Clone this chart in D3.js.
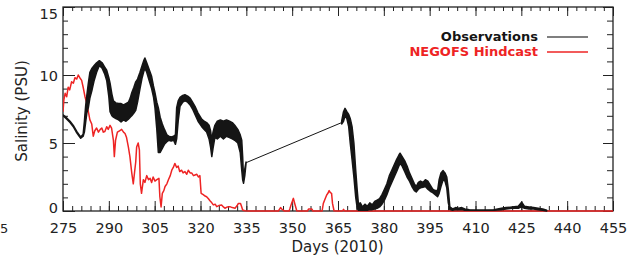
<!DOCTYPE html>
<html><head><meta charset="utf-8">
<script src="https://cdn.jsdelivr.net/npm/d3@7/dist/d3.min.js"></script>
<style>
body{margin:0;background:#fff;}
svg{display:block;}
text{font-family:"DejaVu Sans",sans-serif;}
</style></head>
<body>
<svg id="chart" width="635" height="258"></svg>
<script>
// ---- data ----
const xTicks = [275,290,305,320,335,350,365,380,395,410,425,440,455];
const yTicks = [0,5,10,15];
const seriesNames = ["Observations","NEGOFS Hindcast"];

// Observations: day, upper and lower envelope of the tidal band
const obsDay = [275.0,276.0,277.3,278.5,279.5,280.3,280.8,281.6,282.0,282.4,282.8,283.3,283.8,284.5,285.2,286.0,286.9,287.8,288.6,289.3,290.0,290.4,291.0,291.5,292.3,293.2,294.0,294.8,295.6,296.4,297.0,297.5,298.2,298.8,299.4,300.2,300.9,301.5,301.8,302.4,303.2,304.0,304.6,305.1,305.7,306.2,306.8,307.5,308.2,309.0,309.6,310.4,311.2,311.8,312.2,312.7,313.3,314.2,314.9,315.8,316.6,317.4,318.2,319.2,320.4,321.2,322.0,322.8,323.3,323.7,324.1,324.7,325.5,326.5,327.5,328.5,329.5,330.4,331.2,332.2,333.0,333.5,333.8,334.1,334.5,334.9,
366.2,366.8,367.3,367.9,368.5,369.0,369.6,370.2,370.8,371.3,371.7,372.3,373.0,373.8,374.6,375.4,376.2,377.0,377.8,378.6,379.4,380.2,381.0,381.8,382.6,383.4,384.2,384.9,385.3,386.0,386.8,387.6,388.4,389.2,390.0,390.6,391.3,392.0,392.8,393.6,394.4,395.2,396.0,396.8,397.6,398.1,398.7,399.4,400.0,400.6,401.1,401.6,402.5,403.5,404.5,405.5,406.5,408,410,413,416,418.5,420,422,424,425.1,426,427.5,429,430.5,432,433.3];
const obsHi = [7.06,6.9,6.6,6.25,5.85,5.6,5.45,5.65,6.6,7.7,8.5,9.4,10.2,10.5,10.7,10.9,11.05,10.9,10.6,10.35,9.8,9.4,8.6,8.1,7.95,7.9,7.9,7.8,7.9,8.0,8.3,8.7,9.1,9.5,9.7,10.2,10.7,11.1,11.25,10.9,10.4,9.9,9.2,8.7,8.0,7.6,6.9,6.4,6.0,5.6,5.5,5.45,5.5,5.6,7.6,8.1,8.35,8.5,8.55,8.45,8.3,8.0,7.7,7.2,6.75,6.6,6.5,6.3,5.9,5.2,5.8,6.3,6.6,6.7,6.6,6.7,6.6,6.5,6.3,6.0,5.6,5.2,4.0,2.3,3.1,3.6,
6.6,7.3,7.55,7.3,7.1,6.8,6.2,5.0,3.0,1.5,0.5,0.6,0.3,0.5,0.35,0.6,0.45,0.7,0.8,0.9,1.2,1.6,2.0,2.6,3.0,3.4,3.8,4.1,4.25,4.0,3.7,3.3,2.8,2.4,2.0,1.8,2.1,2.2,2.1,2.3,2.2,1.9,1.6,1.5,1.5,2.3,2.8,2.97,2.8,2.5,1.6,0.3,0.15,0.25,0.2,0.25,0.15,0.1,0.08,0.08,0.1,0.2,0.25,0.3,0.35,0.65,0.35,0.3,0.25,0.2,0.15,0.05];
const obsLo = [7.0,6.8,6.5,6.15,5.75,5.5,5.35,5.5,5.8,6.5,7.2,7.6,8.3,8.9,9.6,10.2,10.7,10.5,10.1,9.6,8.4,7.3,7.0,6.9,6.8,6.7,6.55,6.7,6.6,6.75,6.9,7.0,7.2,7.4,8.0,9.0,9.8,10.3,10.5,10.2,9.6,9.0,8.4,7.6,6.0,4.3,4.3,4.6,4.9,5.1,5.2,5.15,5.2,4.9,5.3,6.6,7.7,8.0,8.1,8.0,7.8,7.5,7.1,6.6,6.2,6.0,5.8,5.3,4.7,4.0,4.6,5.4,5.3,5.5,5.3,5.5,5.4,5.3,5.2,5.0,4.3,3.0,2.3,2.04,2.6,3.5,
6.4,6.6,7.0,6.8,6.2,5.0,3.8,2.5,1.0,0.2,0.05,0.05,0.05,0.05,0.05,0.1,0.1,0.15,0.2,0.3,0.5,0.8,1.2,1.7,2.1,2.5,2.9,3.3,3.5,3.3,2.9,2.5,2.2,1.8,1.5,1.4,1.6,1.7,1.75,1.8,1.6,1.45,1.35,1.2,1.05,1.3,1.8,2.3,2.2,1.7,0.6,0.1,0.05,0.1,0.1,0.1,0.05,0.05,0.05,0.05,0.05,0.1,0.15,0.2,0.2,0.3,0.2,0.15,0.15,0.1,0.05,0.0];

// NEGOFS hindcast
const hindDay = [275.0,275.3,275.7,276.2,276.7,277.2,277.8,278.4,278.9,279.5,280.0,280.5,281.1,281.6,282.2,282.8,283.3,283.8,284.4,284.9,285.4,286.0,286.6,287.2,287.7,288.2,288.7,289.3,289.8,290.4,290.9,291.5,291.8,292.2,292.8,293.5,294.2,294.8,295.3,295.8,296.4,296.9,297.5,298.0,298.4,298.8,299.1,299.6,300.0,300.3,300.7,301.3,301.8,302.4,303.0,303.5,304.0,304.5,305.1,305.7,306.4,306.7,307.1,307.5,308.0,308.4,309.0,309.5,310.1,310.6,311.1,311.6,312.2,312.7,313.2,313.8,314.3,314.9,315.5,316.0,316.6,317.1,317.7,318.2,318.8,319.3,319.8,320.2,320.9,321.5,322.0,322.6,323.1,323.7,324.2,324.8,325.3,326.0,326.9,327.5,328.0,328.8,329.6,330.4,331.3,332.0,332.4,333.1,333.5,333.8,334.5,336,340,345.5,346.2,346.8,347.5,349.0,349.3,349.8,350.4,350.9,351.5,352.5,355.0,355.4,356.4,356.8,359.8,360.2,360.8,361.3,361.7,362.1,362.5,362.9,363.2,363.7,364.5,366.5,366.8,367.2,455];
const hindVal = [7.3,8.2,8.65,8.4,9.1,8.9,9.5,9.4,9.8,9.7,10.0,9.8,9.6,9.1,8.4,7.9,7.3,6.7,6.4,5.5,5.9,6.1,5.8,6.0,6.1,5.8,5.85,6.2,6.0,6.3,6.1,5.2,4.0,5.2,5.8,5.9,6.0,5.8,5.7,5.4,4.7,4.0,2.8,2.0,2.8,3.6,4.7,5.0,4.5,2.0,1.3,2.3,2.1,2.6,2.3,2.4,2.1,2.5,2.2,2.3,2.4,1.05,0.3,1.3,1.5,1.8,2.0,2.3,2.6,3.0,3.2,3.5,3.2,3.3,2.9,3.0,2.8,2.9,2.7,3.0,2.8,2.8,2.6,2.65,2.7,2.5,2.6,1.3,1.2,1.1,1.05,0.9,0.75,0.6,0.45,0.5,0.32,0.4,0.44,0.3,0.2,0.3,0.32,0.25,0.2,0.4,0.56,0.56,0.3,0.07,0.02,0,0,0,0.25,0.1,0,0,0.2,0.56,0.93,0.5,0.02,0,0,0.15,0.15,0,0,0.56,0.9,1.18,1.3,1.5,1.35,1.3,0.56,0.02,0,0,0.12,0,0];

// ---- layout ----
const svg = d3.select("#chart");
const L = 63, R = 613, T = 7, B = 211;
const x = d3.scaleLinear().domain([275,455]).range([L,R]);
const y = d3.scaleLinear().domain([0,15]).range([B,T]);
const black = "#151515", red = "#ee2424";

svg.append("clipPath").attr("id","clip").append("rect")
  .attr("x",L).attr("y",T-2).attr("width",R-L).attr("height",B-T+3.5);

// ---- axes ----
const axisStyle = sel=>{
  sel.select(".domain").remove();
  sel.selectAll("line").attr("stroke","#222").attr("stroke-width",1);
  sel.selectAll("text").attr("fill","#222").style("font-size","14.5px")
     .style("font-family","DejaVu Sans, sans-serif");
};
const minorX = d3.range(275,456,3), minorY = d3.range(0,16,1);

svg.append("g").attr("transform",`translate(0,${B})`)
  .call(d3.axisBottom(x).tickValues(xTicks).tickSize(-10).tickPadding(12)).call(axisStyle);
svg.append("g").attr("transform",`translate(0,${B})`)
  .call(d3.axisBottom(x).tickValues(minorX).tickSize(-5).tickFormat("")).call(axisStyle);
svg.append("g").attr("transform",`translate(0,${T})`)
  .call(d3.axisTop(x).tickValues(xTicks).tickSize(-9).tickFormat("")).call(axisStyle);
svg.append("g").attr("transform",`translate(0,${T})`)
  .call(d3.axisTop(x).tickValues(minorX).tickSize(-4).tickFormat("")).call(axisStyle);

const yl = svg.append("g").attr("transform",`translate(${L},0)`)
  .call(d3.axisLeft(y).tickValues(yTicks).tickSize(-12).tickPadding(5)).call(axisStyle);
yl.selectAll(".tick text").attr("dy", v=>{
  const py = y(v), c = Math.min(Math.max(py,13),207);
  return (c-py+5)+"px";
});
svg.append("g").attr("transform",`translate(${L},0)`)
  .call(d3.axisLeft(y).tickValues(minorY).tickSize(-5).tickFormat("")).call(axisStyle);
svg.append("g").attr("transform",`translate(${R},0)`)
  .call(d3.axisRight(y).tickValues(yTicks).tickSize(-10).tickFormat("")).call(axisStyle);
svg.append("g").attr("transform",`translate(${R},0)`)
  .call(d3.axisRight(y).tickValues(minorY).tickSize(-6).tickFormat("")).call(axisStyle);

// frame
svg.append("rect").attr("x",L).attr("y",T).attr("width",R-L).attr("height",B-T)
  .attr("fill","none").attr("stroke","#222").attr("stroke-width",1.3);

// ---- series ----
const obs = obsDay.map((d,i)=>({d, hi:obsHi[i], lo:obsLo[i]}));
let gapIdx = -1;
for (let i=1;i<obs.length;i++) if (obs[i].d-obs[i-1].d>10) gapIdx=i;
const segA = obs.slice(0,gapIdx), segB = obs.slice(gapIdx);
const area = d3.area().x(p=>x(p.d)).y0(p=>y(p.lo)).y1(p=>y(p.hi));
const g = svg.append("g").attr("clip-path","url(#clip)");

g.append("path")
  .datum(hindDay.map((d,i)=>[d,hindVal[i]]))
  .attr("fill","none").attr("stroke",red).attr("stroke-width",1.5)
  .attr("stroke-linejoin","round")
  .attr("d", d3.line().x(p=>x(p[0])).y(p=>y(p[1])));

[segA,segB].forEach(s=>{
  g.append("path").datum(s).attr("d",area)
    .attr("fill",black).attr("stroke",black).attr("stroke-width",1.5)
    .attr("stroke-linejoin","round");
});
const a = segA[segA.length-1], b = segB[0];
g.append("line")
  .attr("x1",x(a.d)).attr("y1",y((a.hi+a.lo)/2))
  .attr("x2",x(b.d)).attr("y2",y((b.hi+b.lo)/2))
  .attr("stroke",black).attr("stroke-width",1);

// axis titles
svg.append("text").attr("x",337.5).attr("y",252).attr("text-anchor","middle")
  .style("font-size","15px").attr("fill","#222").text("Days (2010)");
svg.append("text").attr("transform","translate(27,111) rotate(-90)")
  .attr("text-anchor","middle").style("font-size","15px").attr("fill","#222")
  .text("Salinity (PSU)");
// label remnant at left edge
svg.append("text").attr("x",0).attr("y",233).style("font-size","13px")
  .attr("fill","#222").text("5");

// legend
const legColors = [black, red];
seriesNames.forEach((n,i)=>{
  const ly = 36 + i*15;
  svg.append("text").attr("x",538).attr("y",ly+4.5).attr("text-anchor","end")
    .style("font-size","13px").style("font-weight","bold").attr("fill",legColors[i]).text(n);
  svg.append("line").attr("x1",547).attr("x2",588).attr("y1",ly+1).attr("y2",ly+1)
    .attr("stroke",i===0?"#555":red).attr("stroke-width",1.3);
});
</script>
</body></html>
